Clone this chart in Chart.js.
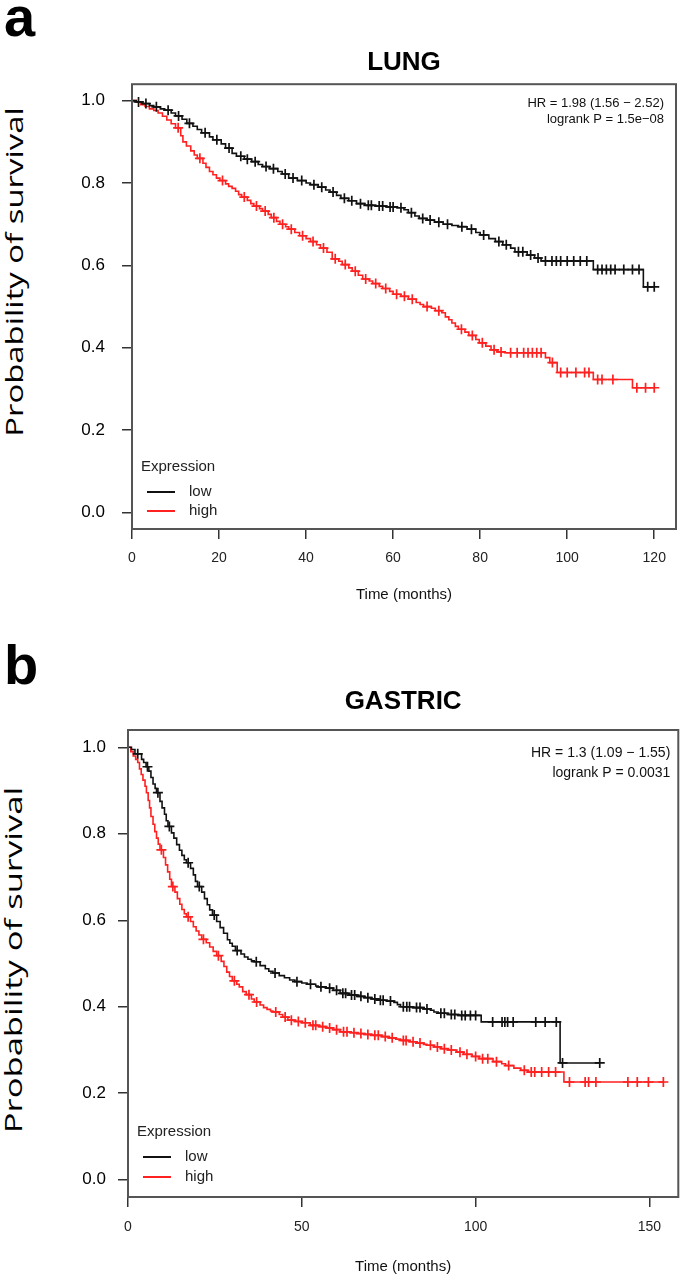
<!DOCTYPE html>
<html>
<head>
<meta charset="utf-8">
<script src="https://cdn.jsdelivr.net/npm/chart.js@4.4.1/dist/chart.umd.min.js"></script>
<style>
html, body { margin: 0; padding: 0; background: #fff; }
body { width: 685px; height: 1283px; position: relative; overflow: hidden; }
.panel { position: absolute; left: 0; }
.panel canvas { display: block; }
.tag { position: absolute; left: 4px; font: bold 56px 'Liberation Sans', Arial, sans-serif; line-height: 1; }
.ytitle { position: absolute; width: 400px; height: 30px; text-align: center; font: 24px 'Open Sans', sans-serif; line-height: 30px; }
</style>
</head>
<body>
<div class="tag" style="top:-11px">a</div>
<div class="tag" style="top:637px">b</div>
<div class="ytitle" style="left:-186px;top:257px;transform:rotate(-90deg) scaleX(1.37)">Probability of survival</div>
<div class="ytitle" style="left:-187px;top:945px;transform:rotate(-90deg) scaleX(1.44)">Probability of survival</div>
<div class="panel" style="top:0"><canvas id="lungChart" width="685" height="620"></canvas></div>
<div class="panel" style="top:640px"><canvas id="gastricChart" width="685" height="643"></canvas></div>
<script>
// tick labels
var survTicks = [0, 0.2, 0.4, 0.6, 0.8, 1.0];
var lungTimeTicks = [0, 20, 40, 60, 80, 100, 120];
var gastricTimeTicks = [0, 50, 100, 150];
var groups = ['low', 'high'];

// Kaplan-Meier rows: [months, survival, censored(1) / event(0)]
var lungLow = [[0,1,0],[1,0.997,0],[1.5,0.997,1],[2.5,0.993,0],[3.2,0.993,1],[4,0.988,0],[5,0.985,0],[5.6,0.985,1],[6.5,0.98,0],[7.5,0.977,0],[8.3,0.977,1],[9,0.97,0],[10,0.963,0],[10.7,0.963,1],[11.5,0.955,0],[12.6,0.945,0],[13.2,0.945,1],[14,0.938,0],[15,0.93,0],[16,0.922,0],[16.8,0.922,1],[17.8,0.912,0],[18.6,0.905,0],[19.5,0.905,1],[20.5,0.895,0],[21.5,0.885,0],[22.3,0.885,1],[23,0.872,0],[24,0.865,0],[25,0.865,1],[25.8,0.858,0],[26.5,0.858,1],[27.5,0.852,0],[28.3,0.852,1],[29,0.845,0],[30,0.84,0],[30.8,0.84,1],[31.6,0.835,0],[32.5,0.835,1],[33.5,0.828,0],[34.5,0.822,0],[35.2,0.822,1],[36,0.812,0],[37,0.812,1],[38,0.806,0],[39,0.806,1],[40,0.8,0],[41,0.796,0],[41.8,0.796,1],[42.8,0.79,0],[43.6,0.79,1],[44.5,0.783,0],[45.5,0.778,0],[46.2,0.778,1],[47,0.77,0],[48,0.763,0],[48.8,0.763,1],[49.8,0.757,0],[50.5,0.757,1],[51.6,0.75,0],[52.5,0.75,1],[53.5,0.746,0],[54.3,0.746,1],[55,0.746,1],[56,0.744,0],[56.8,0.744,1],[57.6,0.744,1],[58.5,0.742,0],[59.3,0.742,1],[60,0.742,1],[61,0.74,0],[61.8,0.74,1],[62.5,0.735,0],[63.5,0.728,0],[64.2,0.728,1],[65,0.72,0],[66,0.714,0],[66.8,0.714,1],[67.8,0.71,0],[68.5,0.71,1],[69.5,0.705,0],[70.5,0.705,1],[71.5,0.7,0],[72.5,0.7,1],[73.5,0.697,0],[75,0.694,0],[75.8,0.694,1],[77,0.688,0],[78,0.688,1],[79,0.68,0],[80,0.674,0],[80.8,0.674,1],[82,0.665,0],[83.5,0.658,0],[84.3,0.658,1],[85.2,0.65,0],[86,0.65,1],[87,0.642,0],[88,0.633,0],[88.8,0.633,1],[89.8,0.633,1],[90.8,0.625,0],[91.6,0.625,1],[92.5,0.618,0],[93.3,0.618,1],[94,0.611,0],[95,0.611,1],[96.5,0.611,1],[97.5,0.611,1],[98.5,0.611,1],[100,0.611,1],[101.5,0.611,1],[103,0.611,1],[104.5,0.611,1],[106,0.59,0],[107,0.59,1],[108,0.59,1],[109,0.59,1],[110,0.59,1],[111,0.59,1],[113,0.59,1],[115,0.59,1],[116.5,0.59,1],[117.5,0.548,0],[118.5,0.548,1],[120,0.548,1]];

var lungHigh = [[0,1,0],[1,0.996,0],[2,0.99,0],[3,0.986,0],[4,0.98,0],[5,0.976,0],[6,0.97,0],[7,0.962,0],[8,0.953,0],[9,0.944,0],[10,0.934,0],[10.6,0.934,1],[11.2,0.915,0],[11.7,0.9,0],[12.5,0.89,0],[13.5,0.878,0],[14.3,0.868,0],[15,0.86,0],[15.6,0.86,1],[16.3,0.848,0],[17,0.838,0],[17.8,0.828,0],[18.6,0.82,0],[19.4,0.812,0],[20.2,0.806,0],[20.8,0.806,1],[21.5,0.798,0],[22.2,0.792,0],[23,0.787,0],[23.8,0.78,0],[24.5,0.772,0],[25.2,0.766,0],[25.8,0.766,1],[26.5,0.758,0],[27.3,0.75,0],[28,0.744,0],[28.6,0.744,1],[29.3,0.738,0],[30,0.732,0],[30.6,0.732,1],[31.3,0.724,0],[32,0.716,0],[32.6,0.716,1],[33.2,0.707,0],[34,0.7,0],[34.6,0.7,1],[35.3,0.694,0],[36,0.688,0],[36.6,0.688,1],[37.4,0.68,0],[38.5,0.672,0],[39.2,0.672,1],[40,0.665,0],[41,0.658,0],[41.6,0.658,1],[42.4,0.65,0],[43.3,0.642,0],[44,0.642,1],[44.8,0.632,0],[46,0.616,0],[46.7,0.616,1],[47.5,0.61,0],[48.3,0.602,0],[49,0.602,1],[49.8,0.594,0],[50.6,0.586,0],[51.3,0.586,1],[52,0.576,0],[53,0.567,0],[53.7,0.567,1],[54.5,0.562,0],[55.3,0.556,0],[56,0.556,1],[56.8,0.549,0],[57.6,0.544,0],[58.3,0.544,1],[59.2,0.537,0],[60,0.53,0],[60.8,0.53,1],[61.8,0.525,0],[62.6,0.525,1],[63.5,0.518,0],[64.4,0.518,1],[65.3,0.51,0],[66.2,0.505,0],[67,0.5,0],[67.8,0.5,1],[68.8,0.496,0],[69.7,0.49,0],[70.5,0.49,1],[71.2,0.485,0],[72,0.475,0],[72.8,0.468,0],[73.5,0.46,0],[74.3,0.452,0],[75,0.445,0],[75.7,0.445,1],[76.5,0.438,0],[77.4,0.43,0],[78.2,0.43,1],[79,0.42,0],[79.8,0.412,0],[80.5,0.412,1],[81.3,0.404,0],[82.5,0.395,0],[83.2,0.395,1],[84,0.39,0],[84.8,0.39,1],[85.6,0.388,0],[87,0.388,1],[88.5,0.388,1],[90,0.388,1],[91,0.388,1],[92,0.388,1],[93,0.388,1],[94,0.388,1],[95,0.376,0],[96,0.364,0],[96.6,0.364,1],[97.7,0.34,0],[98.5,0.34,1],[100,0.34,1],[102,0.34,1],[104,0.34,1],[105,0.34,1],[106,0.323,0],[107,0.323,1],[108,0.323,1],[110.5,0.323,1],[115,0.303,0],[116,0.303,1],[118,0.303,1],[120,0.303,1]];

var gastricLow = [[0,1,0],[1,0.995,0],[2,0.985,0],[2.8,0.985,1],[3.9,0.972,0],[4.5,0.965,0],[5.2,0.955,0],[5.6,0.955,1],[6,0.945,0],[6.6,0.93,0],[7.2,0.915,0],[7.8,0.905,0],[8.2,0.895,0],[8.6,0.895,1],[9.2,0.875,0],[9.8,0.86,0],[10.5,0.845,0],[11,0.83,0],[11.5,0.817,0],[11.9,0.817,1],[12.5,0.802,0],[13.2,0.79,0],[14,0.775,0],[14.8,0.762,0],[15.5,0.75,0],[16.2,0.74,0],[16.8,0.733,0],[17.3,0.733,1],[18,0.72,0],[18.8,0.705,0],[19.4,0.69,0],[20,0.678,0],[20.5,0.678,1],[21.2,0.665,0],[22,0.65,0],[22.8,0.636,0],[23.5,0.624,0],[24.3,0.612,0],[24.8,0.612,1],[25.5,0.597,0],[26.5,0.583,0],[27.5,0.57,0],[28.6,0.555,0],[29.3,0.547,0],[30,0.54,0],[30.9,0.53,0],[31.4,0.53,1],[32.5,0.522,0],[33.5,0.515,0],[34.5,0.51,0],[35.5,0.506,0],[36.3,0.504,0],[36.9,0.504,1],[38,0.495,0],[39.5,0.488,0],[40.5,0.482,0],[41.7,0.478,0],[42.3,0.478,1],[43.5,0.472,0],[45,0.467,0],[46.5,0.462,0],[48,0.458,0],[48.6,0.458,1],[50,0.455,0],[51.5,0.452,0],[52.5,0.452,1],[54,0.448,0],[54.7,0.446,0],[55.5,0.446,1],[57,0.443,0],[58,0.443,1],[59,0.438,0],[60,0.438,1],[61,0.431,0],[61.8,0.431,1],[62.6,0.431,1],[63.5,0.427,0],[64.3,0.427,1],[65.2,0.427,1],[66,0.424,0],[67,0.424,1],[68,0.421,0],[69,0.421,1],[70,0.418,0],[71,0.418,1],[71.8,0.415,0],[72.6,0.415,1],[73.4,0.415,1],[74.5,0.413,0],[75.5,0.413,1],[76.5,0.41,0],[77.5,0.405,0],[78.4,0.4,0],[79.2,0.4,1],[80.2,0.4,1],[81,0.4,1],[82,0.398,0],[83,0.398,1],[84,0.398,1],[85,0.395,0],[86,0.395,1],[87,0.392,0],[88,0.388,0],[89.2,0.385,0],[90,0.385,1],[91,0.385,1],[92,0.382,0],[93,0.382,1],[94,0.382,1],[95,0.38,0],[96,0.38,1],[97,0.38,1],[98.5,0.38,1],[100,0.38,1],[101.6,0.365,0],[104.9,0.365,1],[107.6,0.365,1],[108.4,0.365,1],[109.2,0.365,1],[110.8,0.365,1],[117.3,0.365,1],[120,0.365,1],[123.2,0.365,1],[124.3,0.27,0],[125,0.27,1],[135.7,0.27,1]];

var gastricHigh = [[0,1,0],[0.8,0.99,0],[1.5,0.98,0],[2.2,0.972,0],[2.8,0.965,0],[3.3,0.95,0],[3.8,0.937,0],[4.3,0.924,0],[4.9,0.91,0],[5.3,0.895,0],[5.8,0.877,0],[6.2,0.86,0],[6.6,0.84,0],[7.2,0.822,0],[7.7,0.805,0],[8.2,0.79,0],[8.7,0.776,0],[9.2,0.763,0],[9.6,0.763,1],[10.2,0.745,0],[10.8,0.728,0],[11.4,0.712,0],[12,0.695,0],[12.5,0.678,0],[12.9,0.678,1],[13.5,0.665,0],[14.2,0.65,0],[14.9,0.637,0],[15.5,0.625,0],[16.2,0.615,0],[16.8,0.608,0],[17.3,0.608,1],[18,0.597,0],[18.8,0.585,0],[19.6,0.575,0],[20.4,0.566,0],[21.2,0.556,0],[21.7,0.556,1],[22.5,0.548,0],[23.5,0.538,0],[24.5,0.528,0],[25.5,0.518,0],[26,0.518,1],[26.8,0.505,0],[27.6,0.493,0],[28.4,0.48,0],[29.2,0.47,0],[30,0.46,0],[30.6,0.46,1],[31.3,0.452,0],[32,0.446,0],[33,0.435,0],[34,0.428,0],[34.8,0.428,1],[35.5,0.418,0],[36.3,0.411,0],[37,0.411,1],[38,0.404,0],[39,0.398,0],[40,0.394,0],[41,0.39,0],[41.7,0.388,0],[42.5,0.388,1],[43.5,0.382,0],[44.5,0.376,0],[45.2,0.376,1],[46,0.369,0],[47,0.369,1],[48,0.366,0],[49,0.366,1],[50,0.363,0],[51,0.363,1],[52.4,0.357,0],[53.2,0.357,1],[54,0.357,1],[55,0.354,0],[56,0.354,1],[57,0.351,0],[58,0.351,1],[59,0.347,0],[60,0.347,1],[61,0.342,0],[62,0.342,1],[63,0.342,1],[64,0.34,0],[65,0.34,1],[66,0.338,0],[67,0.338,1],[68,0.336,0],[69,0.336,1],[70,0.334,0],[71,0.334,1],[72,0.334,1],[73,0.331,0],[74,0.331,1],[75,0.328,0],[76,0.328,1],[77,0.325,0],[78.4,0.322,0],[79.2,0.322,1],[80,0.322,1],[81,0.319,0],[82,0.319,1],[83,0.316,0],[84,0.316,1],[85,0.313,0],[86,0.311,0],[87,0.311,1],[88,0.307,0],[89,0.307,1],[90,0.303,0],[91,0.303,1],[92,0.3,0],[93,0.3,1],[94.6,0.295,0],[95.5,0.295,1],[96.5,0.29,0],[97.5,0.29,1],[99,0.285,0],[100,0.285,1],[101,0.28,0],[102,0.28,1],[103.5,0.28,1],[105,0.273,0],[106,0.273,1],[107.5,0.268,0],[108.6,0.264,0],[109.5,0.264,1],[111,0.258,0],[113,0.253,0],[114,0.253,1],[115,0.249,0],[116,0.249,1],[117,0.249,1],[119,0.249,1],[121,0.249,1],[123,0.249,1],[125.4,0.226,0],[127,0.226,1],[131.5,0.226,1],[132.5,0.226,1],[134.6,0.226,1],[143.8,0.226,1],[146.5,0.226,1],[149.7,0.226,1],[154,0.226,1]];

var lungNote = ['HR = 1.98 (1.56 \u2212 2.52)', 'logrank P = 1.5e\u221208'];
var gastricNote = ['HR = 1.3 (1.09 \u2212 1.55)', 'logrank P = 0.0031'];

Chart.defaults.font.family = "'Liberation Sans', Arial, sans-serif";

// box, HR note and legend drawn on top of the plot
var kmNote = {
    id: 'kmNote',
    afterDraw: function(chart, args, o) {
        var ctx = chart.ctx, a = chart.chartArea;
        ctx.save();
        ctx.strokeStyle = '#555';
        ctx.lineWidth = 2;
        ctx.strokeRect(a.left, a.top, a.right - a.left, a.bottom - a.top);

        ctx.fillStyle = '#111';
        ctx.font = o.noteSize + "px 'Liberation Sans', Arial, sans-serif";
        ctx.textAlign = 'right';
        ctx.textBaseline = 'middle';
        o.note.forEach(function(t, i) {
            ctx.fillText(t, a.right - o.noteRight, a.top + o.noteTop + i * o.noteGap);
        });

        ctx.textAlign = 'left';
        ctx.font = o.legendSize + "px 'Liberation Sans', Arial, sans-serif";
        ctx.fillStyle = '#222';
        ctx.fillText('Expression', a.left + 9, a.bottom - o.legendY[0]);
        chart.data.datasets.forEach(function(ds, i) {
            var y = a.bottom - o.legendY[i + 1];
            ctx.strokeStyle = ds.borderColor;
            ctx.lineWidth = 2;
            ctx.beginPath();
            ctx.moveTo(a.left + 15, y);
            ctx.lineTo(a.left + 43, y);
            ctx.stroke();
            ctx.fillStyle = '#222';
            ctx.fillText(ds.label, a.left + 57, y);
        });
        ctx.restore();
    }
};

function series(label, rows, color) {
    return {
        label: label,
        data: rows.map(function(r) { return {x: r[0], y: r[1], c: r[2]}; }),
        borderColor: color,
        backgroundColor: color,
        borderWidth: 1.6,
        stepped: true,
        fill: false,
        pointStyle: 'cross',
        pointRadius: function(ctx) { return ctx.raw && ctx.raw.c ? 5 : 0; },
        pointBorderWidth: 1.7,
        pointBorderColor: color,
        pointHoverRadius: 0
    };
}

function kmChart(id, title, low, high, xMax, xTicks, o) {
    return new Chart(document.getElementById(id), {
        type: 'line',
        data: { datasets: [series(groups[0], low, '#111111'), series(groups[1], high, '#ff2020')] },
        options: {
            responsive: false,
            animation: false,
            events: [],
            layout: { padding: o.pad },
            plugins: {
                legend: { display: false },
                tooltip: { enabled: false },
                title: {
                    display: true, text: title, fullSize: false, color: '#000',
                    font: { size: 26, weight: 'bold' },
                    padding: o.titlePad
                },
                kmNote: o.note
            },
            scales: {
                x: {
                    type: 'linear', min: 0, max: xMax,
                    afterFit: function(s) { s.height = o.xh; },
                    afterBuildTicks: function(s) { s.ticks = xTicks.map(function(v) { return {value: v}; }); },
                    grid: { drawOnChartArea: false, tickLength: 10, tickColor: '#333', lineWidth: 1.5 },
                    border: { display: false },
                    ticks: { font: { size: 14 }, color: '#222', padding: o.xPad, maxRotation: 0 },
                    title: { display: true, text: 'Time (months)', font: { size: 15 }, color: '#111', padding: { top: 0, bottom: o.xTitlePad } }
                },
                y: {
                    type: 'linear', min: -0.04, max: 1.04,
                    afterFit: function(s) { s.width = o.yw; },
                    afterBuildTicks: function(s) { s.ticks = survTicks.map(function(v) { return {value: v}; }); },
                    grid: { drawOnChartArea: false, tickLength: 10, tickColor: '#333', lineWidth: 1.5 },
                    border: { display: false },
                    ticks: { font: { size: 17 }, color: '#000', padding: o.yPad, callback: function(v) { return v.toFixed(1); } }
                }
            }
        },
        plugins: [kmNote]
    });
}

kmChart('lungChart', 'LUNG', lungLow, lungHigh, 125, lungTimeTicks, {
    pad: { left: 60, right: 9, top: 0, bottom: 11 },
    titlePad: { top: 47, bottom: 6 },
    xh: 80, xPad: 10.6, xTitlePad: 5, yw: 72, yPad: 17,
    note: { note: lungNote, noteSize: 13, noteRight: 12, noteTop: 19, noteGap: 16, legendSize: 15, legendY: [62, 37, 18] }
});

kmChart('gastricChart', 'GASTRIC', gastricLow, gastricHigh, 158.3, gastricTimeTicks, {
    pad: { left: 60, right: 4, top: 0, bottom: 0 },
    titlePad: { top: 46.4, bottom: 12.4 },
    xh: 86, xPad: 11.6, xTitlePad: 7, yw: 68, yPad: 12,
    note: { note: gastricNote, noteSize: 14, noteRight: 8, noteTop: 23, noteGap: 20, legendSize: 15, legendY: [65, 40, 20] }
});
</script>
</body>
</html>
